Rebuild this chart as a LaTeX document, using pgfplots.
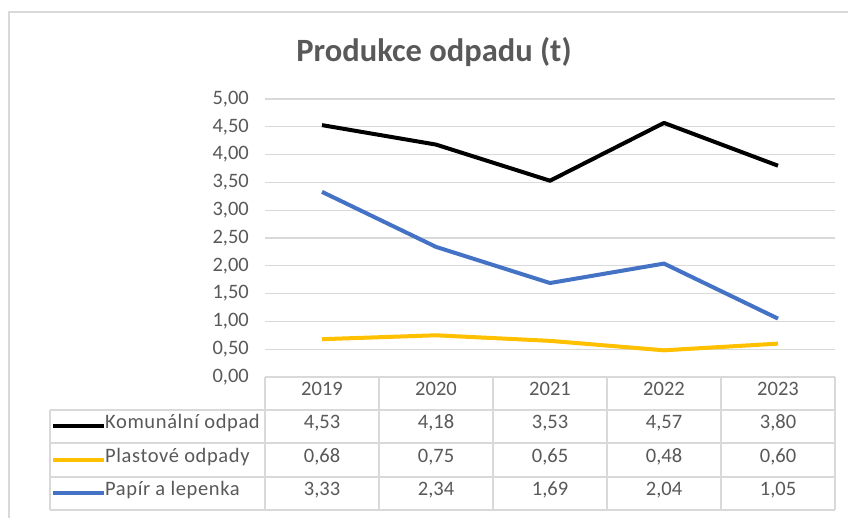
\documentclass[border=0pt]{standalone}
\usepackage{pgfplots}
\pgfplotsset{compat=1.18}
\usepackage{pgfplotstable}
\usepackage{fontspec}
\setmainfont{Carlito}
\definecolor{txt}{HTML}{595959}
\definecolor{grd}{HTML}{D9D9D9}
\definecolor{kom}{HTML}{000000}
\definecolor{pla}{HTML}{FFC000}
\definecolor{pap}{HTML}{4472C4}

\pgfplotstableread{
x kom pla pap
0 4.53 0.68 3.33
1 4.18 0.75 2.34
2 3.53 0.65 1.69
3 4.57 0.48 2.04
4 3.80 0.60 1.05
}\wastedata

\begin{document}
\begin{tikzpicture}[x=1pt,y=1pt]
\useasboundingbox (0,0) rectangle (848,518);
\fill[white] (0,0) rectangle (848,518);
\draw[grd, line width=2pt] (9,-2) -- (9,506) -- (850,506);
\node[font=\bfseries\fontsize{32.5}{38}\selectfont, text=txt, anchor=base] at (434,456) {Produkce odpadu (t)};
\begin{axis}[
  at={(265pt,141pt)}, anchor=south west,
  scale only axis, width=570pt, height=278pt,
  xmin=-0.5, xmax=4.5, ymin=0, ymax=5,
  xtick=\empty,
  ytick={0,0.5,...,5},
  axis line style={draw=none},
  ytick style={draw=none},
  ymajorgrids,
  major grid style={grd, line width=1.3pt},
  yticklabel style={font=\fontsize{20.5}{24}\selectfont, text=txt, inner sep=0pt, xshift=-16pt},
  /pgf/number format/.cd, fixed, fixed zerofill, precision=2, use comma, assume math mode=true,
  /pgfplots/.cd,
  clip=false,
]
\addplot[kom, line width=4pt, line join=round] table[x=x, y=kom] {\wastedata};
\addplot[pla, line width=4pt, line join=round] table[x=x, y=pla] {\wastedata};
\addplot[pap, line width=4pt, line join=round] table[x=x, y=pap] {\wastedata};
\end{axis}
% data table grid
\begin{scope}[grd, line width=1.3pt]
\draw (265,141) -- (835,141);
\foreach \yy in {108,75,41,8} \draw (50,\yy) -- (835,\yy);
\foreach \xx in {265,379,493,607,721,835} \draw (\xx,141) -- (\xx,8);
\draw (50,108) -- (50,8);
\end{scope}
\begin{scope}[every node/.style={font=\fontsize{20.5}{24}\selectfont, text=txt, anchor=mid, inner sep=0pt}]
\foreach \yr [count=\i from 0] in {2019,2020,2021,2022,2023}
  \node at (322+114*\i,124.5) {\yr};
\foreach \v [count=\i from 0] in {4{,}53,4{,}18,3{,}53,4{,}57,3{,}80}
  \node at (322+114*\i,91.5) {\v};
\foreach \v [count=\i from 0] in {0{,}68,0{,}75,0{,}65,0{,}48,0{,}60}
  \node at (322+114*\i,58) {\v};
\foreach \v [count=\i from 0] in {3{,}33,2{,}34,1{,}69,2{,}04,1{,}05}
  \node at (322+114*\i,24.5) {\v};
\node[anchor=mid west] at (105,91.5) {\addfontfeature{LetterSpace=3}Komunální odpad};
\node[anchor=mid west] at (105,58) {\addfontfeature{LetterSpace=3}Plastové odpady};
\node[anchor=mid west] at (105,24.5) {\addfontfeature{LetterSpace=3}Papír a lepenka};
\end{scope}
\draw[kom, line width=4pt] (53,91.5) -- (104,91.5);
\draw[pla, line width=4pt] (53,58) -- (104,58);
\draw[pap, line width=4pt] (53,24.5) -- (104,24.5);
\end{tikzpicture}
\end{document}
